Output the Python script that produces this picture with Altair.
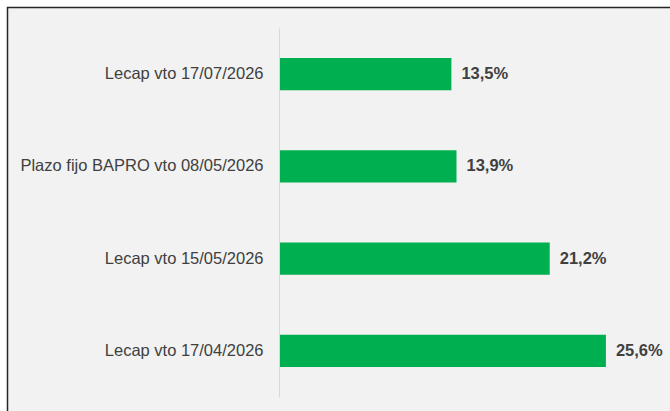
import altair as alt
import pandas as pd

categories = [
    "Lecap vto 17/07/2026",
    "Plazo fijo BAPRO vto 08/05/2026",
    "Lecap vto 15/05/2026",
    "Lecap vto 17/04/2026",
]
values = [13.5, 13.9, 21.2, 25.6]
labels = ["13,5%", "13,9%", "21,2%", "25,6%"]

df = pd.DataFrame({"cat": categories, "val": values, "lab": labels})

W, H = 391, 369
FONT = "Liberation Sans"

frame = alt.Chart(pd.DataFrame({"a": [0]})).mark_rect(
    fill="#F2F2F2", stroke="#262626", strokeWidth=1.5, clip=False
).encode(
    x=alt.value(-271.5), x2=alt.value(W + 20),
    y=alt.value(-20.5), y2=alt.value(H + 30),
)

y_enc = alt.Y(
    "cat:N", sort=categories, title=None,
    scale=alt.Scale(paddingInner=0.65, paddingOuter=0.325),
    axis=alt.Axis(
        ticks=False, domain=True, domainColor="#D9D9D9", domainWidth=1,
        labelFont=FONT, labelFontSize=16.5, labelColor="#404040",
        labelPadding=16, labelLimit=300, zindex=1,
    ),
)
x_enc = alt.X(
    "val:Q", title=None, scale=alt.Scale(domain=[0, W / 12.77], nice=False),
    axis=None,
)

bars = alt.Chart(df).mark_bar(color="#00B050").encode(x=x_enc, y=y_enc)
text = alt.Chart(df).mark_text(
    align="left", baseline="middle", dx=10, font=FONT, fontSize=16.5,
    fontWeight="bold", color="#404040",
).encode(x=x_enc, y=y_enc, text="lab:N")

chart = alt.layer(frame, bars, text).properties(
    width=W, height=H,
    autosize=alt.AutoSizeParams(type="none"),
    padding={"left": 279, "top": 28, "right": 0, "bottom": 14},
    background="white",
).configure_view(stroke=None)

chart.save("out.html", embed_options={"renderer": "svg", "actions": False})
